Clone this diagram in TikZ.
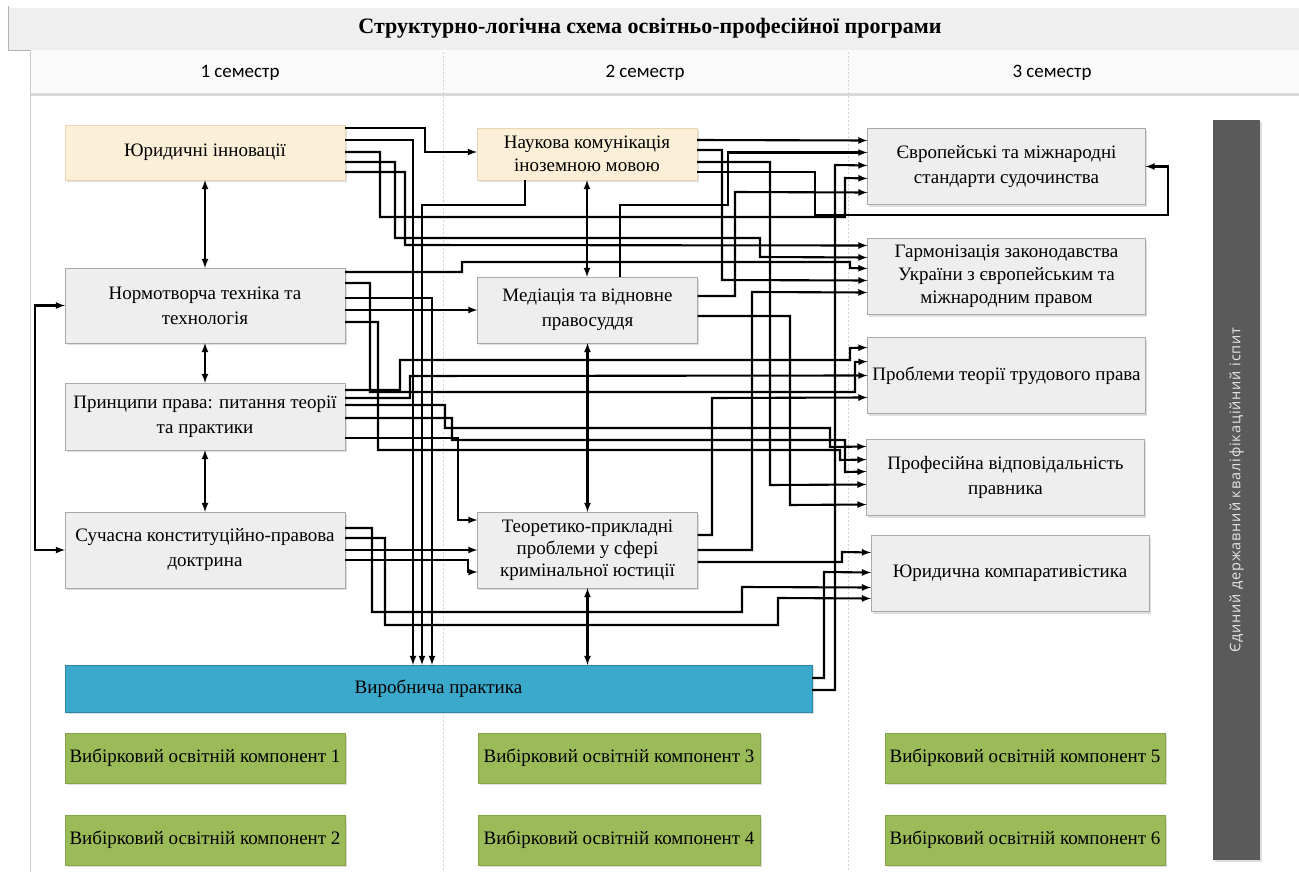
\documentclass[tikz,border=0pt]{standalone}
\usepackage{fontspec}
\setmainfont{Liberation Serif}
\newfontfamily\semfont{Carlito}
\newfontfamily\examfont[LetterSpace=6]{Open Sans}
\usetikzlibrary{shadows}

\definecolor{coursegray}{HTML}{EEEEEE}
\definecolor{courseline}{HTML}{A9A9A9}
\definecolor{peach}{HTML}{FCEFD8}
\definecolor{peachline}{HTML}{E9D7B6}
\definecolor{practblue}{HTML}{3AA9CB}
\definecolor{electgreen}{HTML}{9BBB59}
\definecolor{electline}{HTML}{84A447}
\definecolor{examgray}{HTML}{5A5A5A}
\definecolor{headgray}{HTML}{EFEFEF}

\begin{document}
\begin{tikzpicture}[x=1pt, y=-1pt,
    coursebox/.style={draw=courseline, fill=coursegray, line width=0.8pt, align=center,
      inner sep=2pt, outer sep=0pt, font=\fontsize{19}{25}\selectfont,
      drop shadow={opacity=0.25, shadow xshift=1.5pt, shadow yshift=-2pt}},
    langbox/.style={coursebox, draw=peachline, fill=peach},
    electbox/.style={coursebox, draw=electline, fill=electgreen, font=\fontsize{19}{21}\selectfont},
    link/.style={->, >=latex, line width=2.1pt},
    both/.style={<->, >=latex, line width=2.1pt}]
  \useasboundingbox (0,0) rectangle (1299,872);

  % header
  \fill[headgray] (8,8) rectangle (1299,50);
  \draw[gray!60] (8,6) -- (8,50) -- (1299,50);
  \fill[gray!4] (30,50) rectangle (1299,95);
  \draw[gray!30, line width=3pt] (30,95) -- (1299,95);
  \draw[gray!40] (30,50) -- (30,872);
  \draw[gray!35, dash pattern=on 2pt off 2pt] (443,52) -- (443,872);
  \draw[gray!35, dash pattern=on 2pt off 2pt] (848,52) -- (848,872);
  \node[font=\fontsize{22}{24}\selectfont\bfseries] (title) at (650,28) {Структурно-логічна схема освітньо-професійної програми};
  \node[font=\semfont\fontsize{19}{21}\selectfont] (sem1) at (240,73) {1 семестр};
  \node[font=\semfont\fontsize{19}{21}\selectfont] (sem2) at (645,73) {2 семестр};
  \node[font=\semfont\fontsize{19}{21}\selectfont] (sem3) at (1052,73) {3 семестр};

  \begin{scope}[every node/.append style={minimum width=280pt}]
    \node[langbox, minimum height=55pt] (jur) at (205,152.5) {Юридичні інновації};
    \node[coursebox, minimum height=75pt] (norm) at (205,305.5) {Нормотворча техніка та\\технологія};
    \node[coursebox, minimum height=67pt] (princ) at (205,416.5) {Принципи права: питання теорії\\та практики};
    \node[coursebox, minimum height=76pt] (konst) at (205,550) {Сучасна конституційно-правова\\доктрина};
  \end{scope}

  \begin{scope}[every node/.append style={minimum width=220pt}]
    \node[langbox, minimum height=52pt, font=\fontsize{19}{23}\selectfont] (nauk) at (587,154) {Наукова комунікація\\іноземною мовою};
    \node[coursebox, minimum height=66pt] (med) at (587.5,310) {Медіація та відновне\\правосуддя};
    \node[coursebox, minimum height=76pt, font=\fontsize{19}{22}\selectfont] (teor) at (587.5,550) {Теоретико-прикладні\\проблеми у сфері\\кримінальної юстиції};
  \end{scope}

  \begin{scope}[every node/.append style={minimum width=278pt, minimum height=76pt}]
    \node[coursebox] (evr) at (1006.5,166.5) {Європейські та міжнародні\\стандарти судочинства};
    \node[coursebox, font=\fontsize{19}{23}\selectfont] (garm) at (1006.5,276.5) {Гармонізація законодавства\\України з європейським та\\міжнародним правом};
    \node[coursebox] (trud) at (1006.5,375.5) {Проблеми теорії трудового права};
    \node[coursebox] (prof) at (1005.5,477.5) {Професійна відповідальність\\правника};
    \node[coursebox] (komp) at (1010,573.5) {Юридична компаративістика};
  \end{scope}

  \node[coursebox, draw=practblue!80!black, fill=practblue, minimum width=747pt, minimum height=47pt,
    font=\fontsize{19}{21}\selectfont] (prakt) at (438.5,688.5) {Виробнича практика};

  \node[electbox, minimum width=280pt, minimum height=50pt] (vk1) at (205,758) {Вибірковий освітній компонент 1};
  \node[electbox, minimum width=280pt, minimum height=50pt] (vk2) at (205,840) {Вибірковий освітній компонент 2};
  \node[electbox, minimum width=282pt, minimum height=50pt] (vk3) at (619,758) {Вибірковий освітній компонент 3};
  \node[electbox, minimum width=282pt, minimum height=50pt] (vk4) at (619,840) {Вибірковий освітній компонент 4};
  \node[electbox, minimum width=280pt, minimum height=50pt] (vk5) at (1025,758) {Вибірковий освітній компонент 5};
  \node[electbox, minimum width=280pt, minimum height=50pt] (vk6) at (1025,840) {Вибірковий освітній компонент 6};

  \node[fill=examgray, minimum width=47pt, minimum height=740pt, outer sep=0pt,
    drop shadow={opacity=0.25, shadow xshift=1.5pt, shadow yshift=-2pt}] (ispyt) at (1236.5,490) {};
  \node[rotate=90, text=gray!20, font=\examfont\fontsize{14.5}{16}\selectfont] (ispyttext) at (ispyt.center) {Єдиний державний кваліфікаційний іспит};

  % vertical links in the columns
  \draw[both] (jur.south) -- (norm.north);
  \draw[both] (norm.south) -- (princ.north);
  \draw[both] (princ.south) -- (konst.north);
  \draw[both] (norm.west) -- ++(-30,0) |- (konst.west);
  \draw[both] (nauk.south) -- (nauk.south |- med.north);
  \draw[both] (med.south) -- (teor.north);
  \draw[both] (teor.south) -- (teor.south |- prakt.north);

  % links from the first semester
  \draw[link] ([shift={(0,3)}]jur.north east) -| (425,152) -- ([shift={(0,24)}]nauk.north west);
  \draw[link] ([shift={(0,15)}]jur.north east) -| ([shift={(348,0)}]prakt.north west);
  \draw[link] ([shift={(0,27)}]jur.north east) -| (380,217) -| (845,178) -- ([shift={(0,50)}]evr.north west);
  \draw[link] ([shift={(0,37)}]jur.north east) -| (395,238) -| (760,257) -- ([shift={(0,19)}]garm.north west);
  \draw[link] ([shift={(0,47)}]jur.north east) -| (405,245) -- ([shift={(0,7)}]garm.north west);
  \draw[link] ([shift={(0,4)}]norm.north east) -| (462,262) -| (850,268) -- ([shift={(0,30)}]garm.north west);
  \draw[link] ([shift={(0,15)}]norm.north east) -| (370,392) -| (855,362) -- ([shift={(0,24)}]trud.north west);
  \draw[link] ([shift={(0,30)}]norm.north east) -| ([shift={(367,0)}]prakt.north west);
  \draw[link] ([shift={(0,42)}]norm.north east) -- ([shift={(0,33)}]med.north west);
  \draw[link] ([shift={(0,54)}]norm.north east) -| (378,450) -| (840,460) -- ([shift={(0,20)}]prof.north west);
  \draw[link] ([shift={(0,7)}]princ.north east) -| (400,360) -| (850,348) -- ([shift={(0,10)}]trud.north west);
  \draw[link] ([shift={(0,15)}]princ.north east) -| (410,376) -- ([shift={(0,38)}]trud.north west);
  \draw[link] ([shift={(0,22)}]princ.north east) -| (445,428) -| (830,447) -- ([shift={(0,7)}]prof.north west);
  \draw[link] ([shift={(0,35)}]princ.north east) -| (452,440) -| (845,472) -- ([shift={(0,32)}]prof.north west);
  \draw[link] ([shift={(0,55)}]princ.north east) -| (458,520) -- ([shift={(0,8)}]teor.north west);
  \draw[link] ([shift={(0,16)}]konst.north east) -| (372,612) -| (742,587) -- ([shift={(0,52)}]komp.north west);
  \draw[link] ([shift={(0,26)}]konst.north east) -| (385,625) -| (778,598) -- ([shift={(0,63)}]komp.north west);
  \draw[link] ([shift={(0,38)}]konst.north east) -- ([shift={(0,38)}]teor.north west);
  \draw[link] ([shift={(0,48)}]konst.north east) -| (468,572) -- ([shift={(0,60)}]teor.north west);

  % links from the second semester
  \draw[link] ([shift={(0,12)}]nauk.north east) -- ([shift={(0,12)}]evr.north west);
  \draw[link] ([shift={(0,22)}]nauk.north east) -| (722,280) -- ([shift={(0,42)}]garm.north west);
  \draw[link] ([shift={(0,34)}]nauk.north east) -| (770,485) -- ([shift={(0,45)}]prof.north west);
  \draw[link] ([shift={(0,44)}]nauk.north east) -| (815,215) -- (1168,215) |- (evr.east);
  \draw[link] ([shift={(-62,0)}]nauk.south) |- (422,205) -- ([shift={(357,0)}]prakt.north west);
  \draw[link] ([shift={(32.5,0)}]med.north) |- (728,205) |- ([shift={(0,24)}]evr.north west);
  \draw[link] ([shift={(0,19)}]med.north east) -| (735,192) -- ([shift={(0,64)}]evr.north west);
  \draw[link] ([shift={(0,39)}]med.north east) -| (790,505) -- ([shift={(0,65)}]prof.north west);
  \draw[link] ([shift={(0,23)}]teor.north east) -| (712,398) -- ([shift={(0,60)}]trud.north west);
  \draw[link] ([shift={(0,38)}]teor.north east) -| (752,292) -- ([shift={(0,54)}]garm.north west);
  \draw[link] ([shift={(0,50)}]teor.north east) -| (842,552) -- ([shift={(0,17)}]komp.north west);
  \draw[link] ([shift={(0,13)}]prakt.north east) -| (824,572) -- ([shift={(0,37)}]komp.north west);
  \draw[link] ([shift={(0,25)}]prakt.north east) -| (835,165) -- ([shift={(0,37)}]evr.north west);
\end{tikzpicture}
\end{document}
